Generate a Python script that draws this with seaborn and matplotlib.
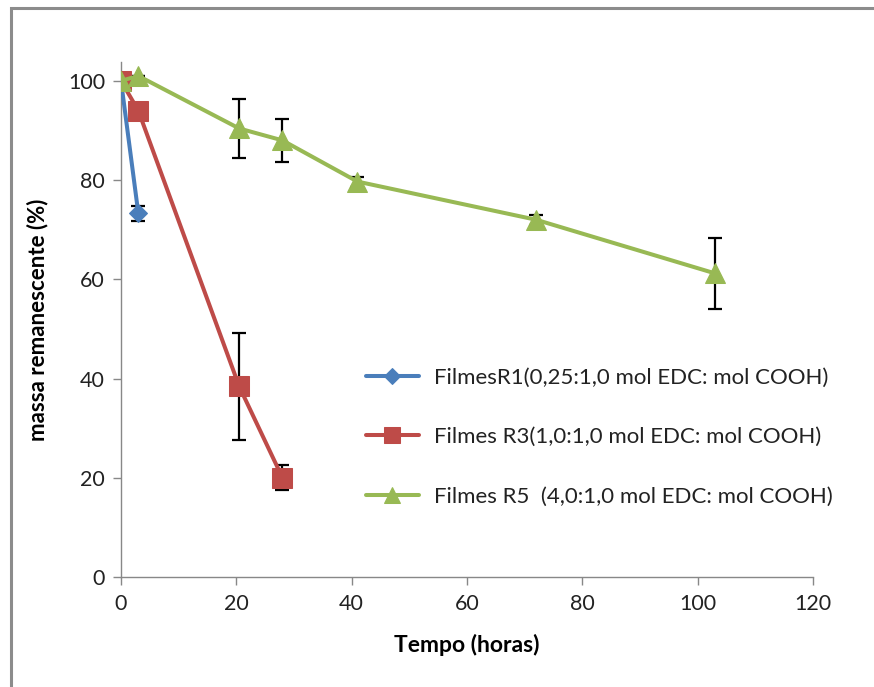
import matplotlib
matplotlib.use("Agg")
import matplotlib.pyplot as plt
import seaborn as sns
import numpy as np
from matplotlib.patches import Rectangle

# ---- data ----
r1_t = [0, 3]
r1_m = [100, 73.3]
r1_err = [0, 1.5]

r3_t = [0, 3, 20.5, 28]
r3_m = [100, 94, 38.4, 20]
r3_err = [0, 0, 10.7, 2.5]

r5_t = [0, 3, 20.5, 28, 41, 72, 103]
r5_m = [100, 101, 90.4, 88, 79.7, 72, 61.2]
r5_err = [0, 0, 6, 4.4, 1, 1, 7.1]

labels = [
    "FilmesR1(0,25:1,0 mol EDC: mol COOH)",
    "Filmes R3(1,0:1,0 mol EDC: mol COOH)",
    "Filmes R5  (4,0:1,0 mol EDC: mol COOH)",
]
x_ticks = [0, 20, 40, 60, 80, 100, 120]
y_ticks = [0, 20, 40, 60, 80, 100]

sns.set_theme(style="white")
plt.rcParams["font.family"] = ["Lato", "DejaVu Sans"]

fig = plt.figure(figsize=(8.74, 6.87), dpi=100)
ax = fig.add_axes([121/874, 1-577/687, (813-121)/874, (577-62)/687])

colors = ["#4A7EBB", "#BE4B48", "#98B954"]
markers = ["D", "s", "^"]
msizes = [9, 14, 14]
series = [(r1_t, r1_m, r1_err), (r3_t, r3_m, r3_err), (r5_t, r5_m, r5_err)]

for (t, m, e) in series:
    ax.errorbar(t, m, yerr=e, fmt="none", ecolor="black", elinewidth=1.6,
                capsize=5, capthick=1.6, zorder=2)

for (t, m, e), c, mk, ms, lab in zip(series, colors, markers, msizes, labels):
    sns.lineplot(x=t, y=m, ax=ax, color=c, marker=mk, markersize=ms,
                 markeredgecolor=c, linewidth=2.9, label=lab, zorder=3,
                 estimator=None, sort=False)

ax.set_xlim(0, 120)
ax.set_ylim(0, 103.8)
ax.set_xticks(x_ticks)
ax.set_yticks(y_ticks)
ax.tick_params(axis="both", direction="out", length=5.5, width=1, color="#888888",
               labelsize=15.5, labelcolor="#222222", bottom=True, left=True)
ax.tick_params(axis="x", pad=7)
ax.tick_params(axis="y", pad=6)
for s in ["top", "right"]:
    ax.spines[s].set_visible(False)
for s in ["left", "bottom"]:
    ax.spines[s].set_color("#888888")
    ax.spines[s].set_linewidth(1)

ax.set_xlabel("Tempo (horas)", fontsize=16.5, fontweight="bold", color="black", labelpad=14)
ax.set_ylabel("massa remanescente (%)", fontsize=16, fontweight="bold", color="black", labelpad=14)

leg = ax.legend(loc="upper left", bbox_to_anchor=(350/874, 1-352/687),
                bbox_transform=fig.transFigure, frameon=False, fontsize=16,
                labelspacing=1.78, handlelength=2.4, handletextpad=0.7,
                borderpad=0.2, markerscale=0.85)
for txt in leg.get_texts():
    txt.set_color("#222222")

fig.patches.append(Rectangle((11/874, -0.05), 1.0, 1-8/687+0.05, transform=fig.transFigure,
                             fill=False, edgecolor="#8c8c8c", linewidth=2.2))

fig.savefig("out.png", dpi=100)
